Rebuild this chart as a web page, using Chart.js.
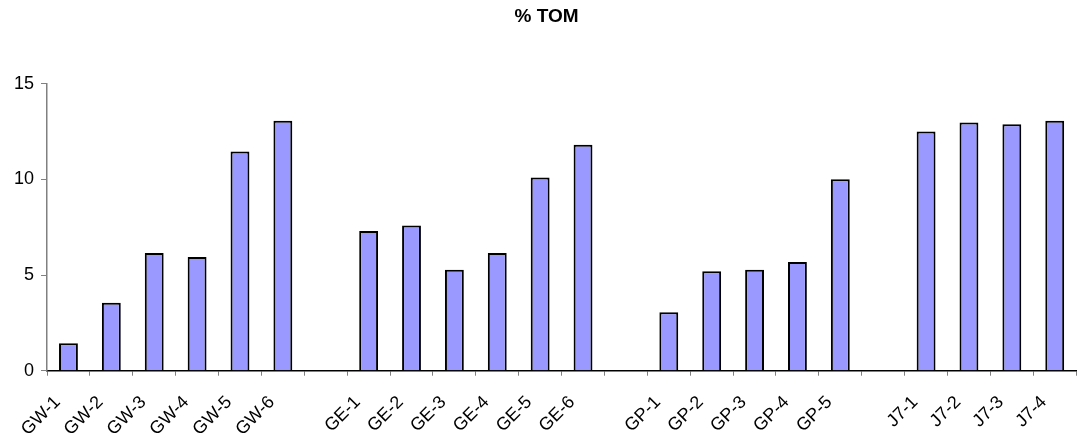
<!DOCTYPE html>
<html>
<head>
<meta charset="utf-8">
<title>% TOM</title>
<script src="https://cdn.jsdelivr.net/npm/chart.js@4.4.1/dist/chart.umd.min.js"></script>
<style>
  html, body { margin: 0; padding: 0; background: #ffffff; }
  #wrap { width: 1086px; height: 442px; position: relative; }
</style>
</head>
<body>
<div id="wrap"><canvas id="chart"></canvas></div>
<script>
// Sample groups; blank entries separate the groups on the category axis
const categories = [
  'GW-1', 'GW-2', 'GW-3', 'GW-4', 'GW-5', 'GW-6', '',
  'GE-1', 'GE-2', 'GE-3', 'GE-4', 'GE-5', 'GE-6', '',
  'GP-1', 'GP-2', 'GP-3', 'GP-4', 'GP-5', '',
  'J7-1', 'J7-2', 'J7-3', 'J7-4'
];

// Total organic matter (%) for each sample; null marks a separator slot
const tomValues = [
  1.43, 3.55, 6.16, 5.95, 11.46, 13.07, null,
  7.30, 7.59, 5.28, 6.16, 10.10, 11.81, null,
  3.06, 5.20, 5.28, 5.69, 10.01, null,
  12.51, 12.98, 12.88, 13.07
];

const yTicks = [0, 5, 10, 15];
const chartTitle = '% TOM';

const FONT = '"Liberation Sans", Arial, sans-serif';

new Chart(document.getElementById('chart'), {
  type: 'bar',
  data: {
    labels: categories,
    datasets: [{
      label: chartTitle,
      data: tomValues,
      backgroundColor: '#9999ff',
      borderColor: '#000000',
      borderWidth: 2,
      borderSkipped: 'start',
      barPercentage: 0.44,
      categoryPercentage: 1.0
    }]
  },
  options: {
    responsive: true,
    maintainAspectRatio: false,
    animation: false,
    layout: { padding: { left: 7, right: 0, top: 0, bottom: -14 } },
    plugins: {
      legend: { display: false },
      tooltip: { enabled: false },
      title: {
        display: true,
        text: chartTitle,
        color: '#000000',
        font: { family: FONT, size: 19, weight: 'bold' },
        padding: { top: 5, bottom: 56 }
      }
    },
    scales: {
      x: {
        offset: true,
        grid: {
          display: true,
          offset: true,
          drawOnChartArea: false,
          drawTicks: true,
          tickLength: 5,
          color: '#808080'
        },
        border: { display: true, color: '#000000', width: 1.5 },
        ticks: {
          autoSkip: false,
          maxRotation: 45,
          minRotation: 45,
          color: '#000000',
          padding: 16,
          labelOffset: -11,
          font: { family: FONT, size: 18 }
        }
      },
      y: {
        min: 0,
        max: 15,
        afterBuildTicks: (scale) => {
          scale.ticks = yTicks.map(v => ({ value: v }));
        },
        grid: {
          display: true,
          drawOnChartArea: false,
          drawTicks: true,
          tickLength: 6,
          color: '#808080'
        },
        border: { display: true, color: '#808080', width: 1.5 },
        ticks: {
          color: '#000000',
          padding: 7,
          font: { family: FONT, size: 18 }
        }
      }
    }
  }
});
</script>
</body>
</html>
